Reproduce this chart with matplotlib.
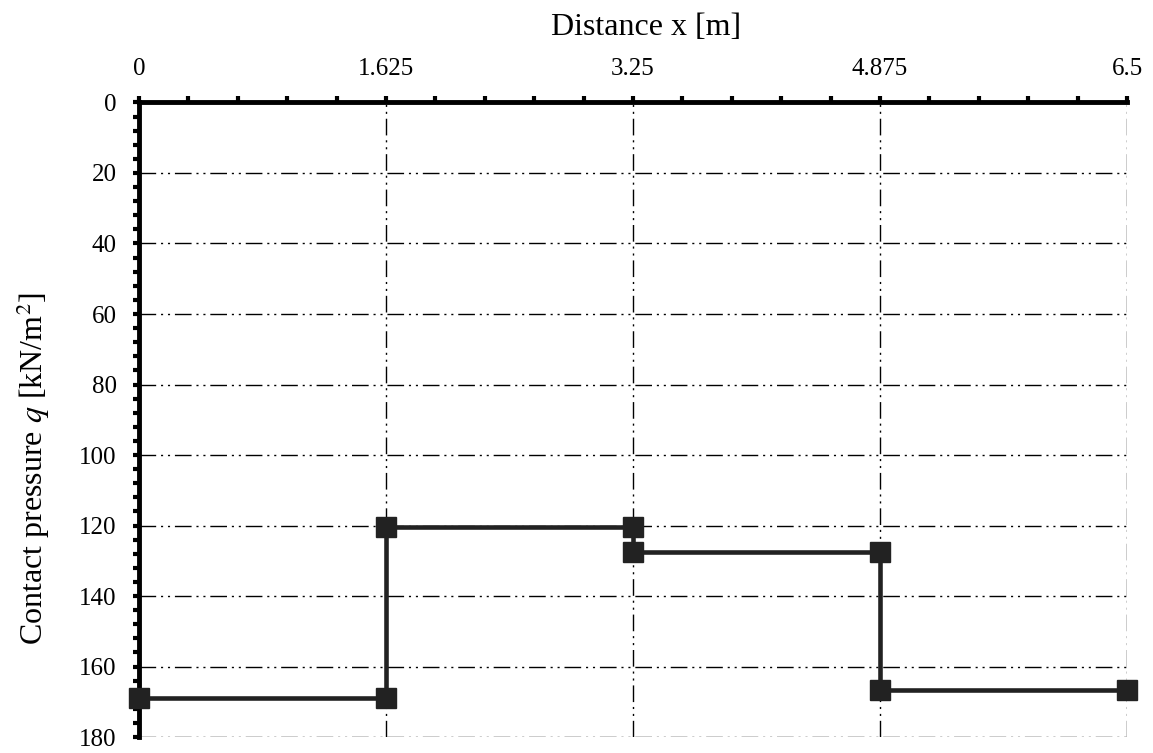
import matplotlib
matplotlib.use('Agg')
import matplotlib.pyplot as plt
from matplotlib.ticker import MultipleLocator

# Data (step profile of contact pressure)
x_pts = [0, 1.625, 1.625, 3.25, 3.25, 4.875, 4.875, 6.5]
q_pts = [168.9, 168.9, 120.4, 120.4, 127.6, 127.6, 166.6, 166.6]
x_ticks = [0, 1.625, 3.25, 4.875, 6.5]
x_tick_labels = ['0', '1.625', '3.25', '4.875', '6.5']
y_ticks = [0, 20, 40, 60, 80, 100, 120, 140, 160, 180]

plt.rcParams['font.family'] = ['Liberation Serif', 'DejaVu Serif']
plt.rcParams['mathtext.fontset'] = 'stix'

fig = plt.figure(figsize=(11.53, 7.53), dpi=100)
ax = fig.add_axes([0.1206, 0.0212, 0.8569, 0.8427])

grid_ls = (0, (12, 3.5, 1.5, 3.5, 1.5, 3.5))
for xv in x_ticks[1:]:
    ax.axvline(xv, color='black', lw=1.0, ls=grid_ls, zorder=1)
for yv in y_ticks[1:]:
    ax.axhline(yv, color='black', lw=1.0, ls=grid_ls, zorder=1)

ax.plot(x_pts, q_pts, color='#222222', lw=3.3, marker='s', markersize=14,
        clip_on=False, zorder=5)

ax.set_xlim(0, 6.5)
ax.set_ylim(180, 0)

ax.xaxis.tick_top()
ax.xaxis.set_label_position('top')
ax.set_xticks(x_ticks)
ax.set_xticklabels(x_tick_labels)
ax.set_yticks(y_ticks)
ax.xaxis.set_minor_locator(MultipleLocator(0.325))
ax.yaxis.set_minor_locator(MultipleLocator(4))

ax.tick_params(axis='both', which='major', direction='out', length=4, width=3,
               labelsize=18, pad=12, color='black')
ax.tick_params(axis='both', which='minor', direction='out', length=4, width=3,
               color='black')

for side in ['right', 'bottom']:
    ax.spines[side].set_visible(False)
for side in ['left', 'top']:
    ax.spines[side].set_linewidth(3.5)

ax.set_xlabel('Distance x [m]', fontsize=23, labelpad=17)
ax.set_ylabel('Contact pressure $q$ [kN/m$^2$]', fontsize=23, labelpad=20)
ax.xaxis.label.set_x(0.513)
ax.yaxis.label.set_y(0.424)

fig.savefig('out.png', dpi=100)
